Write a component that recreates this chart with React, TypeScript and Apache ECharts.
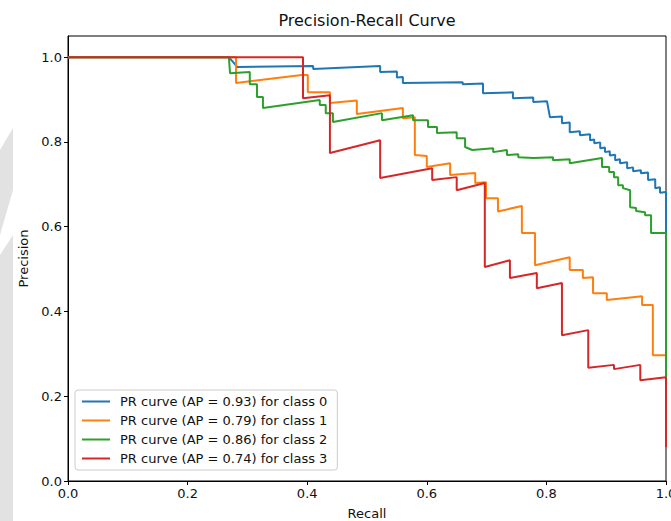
import React, { useEffect, useRef } from 'react';
import * as echarts from 'echarts';

const seriesNames = [
  'PR curve (AP = 0.93) for class 0',
  'PR curve (AP = 0.79) for class 1',
  'PR curve (AP = 0.86) for class 2',
  'PR curve (AP = 0.74) for class 3',
];
const seriesColors = ['#1f77b4', '#ff7f0e', '#2ca02c', '#d62728'];
const axisTicks = [0, 0.2, 0.4, 0.6, 0.8, 1.0];

// [recall, precision]
const class0 = [
  [0, 1], [0.269, 1], [0.283, 0.977], [0.41, 0.979], [0.41, 0.972], [0.522, 0.979], [0.522, 0.965],
  [0.55, 0.966], [0.55, 0.952], [0.56, 0.953], [0.56, 0.939], [0.66, 0.941], [0.66, 0.936],
  [0.694, 0.938], [0.694, 0.915], [0.744, 0.917], [0.744, 0.903], [0.778, 0.905], [0.778, 0.894],
  [0.801, 0.896], [0.806, 0.858], [0.826, 0.86], [0.826, 0.844], [0.839, 0.846], [0.839, 0.823],
  [0.856, 0.825], [0.856, 0.816], [0.873, 0.818], [0.873, 0.804], [0.88, 0.806], [0.88, 0.797],
  [0.89, 0.799], [0.89, 0.785], [0.898, 0.787], [0.898, 0.776], [0.906, 0.778], [0.906, 0.768],
  [0.915, 0.77], [0.915, 0.757], [0.923, 0.759], [0.923, 0.75], [0.935, 0.752], [0.935, 0.738],
  [0.945, 0.74], [0.945, 0.731], [0.958, 0.733], [0.958, 0.726], [0.97, 0.728], [0.97, 0.71],
  [0.982, 0.712], [0.982, 0.691], [0.99, 0.693], [0.99, 0.68], [1.0, 0.682], [1.0, 0.55],
];
const class1 = [
  [0, 1], [0.281, 1], [0.281, 0.939], [0.391, 0.958], [0.401, 0.958], [0.401, 0.917], [0.438, 0.917],
  [0.438, 0.892], [0.483, 0.898], [0.483, 0.866], [0.56, 0.88], [0.56, 0.856], [0.58, 0.858],
  [0.58, 0.769], [0.6, 0.767], [0.6, 0.741], [0.639, 0.75], [0.639, 0.722], [0.681, 0.727],
  [0.681, 0.703], [0.699, 0.705], [0.699, 0.667], [0.719, 0.667], [0.719, 0.636], [0.759, 0.649],
  [0.759, 0.585], [0.781, 0.585], [0.781, 0.509], [0.839, 0.528], [0.839, 0.498], [0.861, 0.498],
  [0.861, 0.479], [0.878, 0.481], [0.878, 0.443], [0.901, 0.443], [0.901, 0.427], [0.96, 0.436],
  [0.96, 0.415], [0.978, 0.415], [0.978, 0.297], [1.0, 0.297], [1.0, 0.22],
];
const class2 = [
  [0, 1], [0.269, 1], [0.271, 0.962], [0.304, 0.965], [0.304, 0.936], [0.316, 0.936], [0.316, 0.906],
  [0.326, 0.906], [0.326, 0.88], [0.421, 0.899], [0.421, 0.887], [0.431, 0.887], [0.431, 0.868],
  [0.443, 0.868], [0.443, 0.847], [0.525, 0.868], [0.525, 0.851], [0.577, 0.863], [0.577, 0.851],
  [0.602, 0.851], [0.602, 0.835], [0.617, 0.835], [0.617, 0.821], [0.65, 0.823], [0.65, 0.809],
  [0.664, 0.809], [0.664, 0.788], [0.676, 0.781], [0.711, 0.785], [0.711, 0.776], [0.734, 0.781],
  [0.734, 0.769], [0.753, 0.771], [0.753, 0.764], [0.779, 0.762], [0.811, 0.764], [0.811, 0.757],
  [0.839, 0.759], [0.839, 0.75], [0.893, 0.762], [0.893, 0.741], [0.905, 0.741], [0.905, 0.729],
  [0.913, 0.729], [0.913, 0.717], [0.92, 0.717], [0.92, 0.698], [0.928, 0.698], [0.928, 0.691],
  [0.94, 0.686], [0.94, 0.646], [0.95, 0.644], [0.95, 0.637], [0.965, 0.634], [0.965, 0.627],
  [0.975, 0.627], [0.975, 0.585], [1.0, 0.585], [1.0, 0.2],
];
const class3 = [
  [0, 1], [0.393, 1], [0.393, 0.903], [0.438, 0.91], [0.438, 0.774], [0.522, 0.804], [0.522, 0.715],
  [0.609, 0.738], [0.609, 0.71], [0.65, 0.717], [0.65, 0.686], [0.697, 0.703], [0.697, 0.505],
  [0.739, 0.521], [0.739, 0.479], [0.784, 0.491], [0.784, 0.455], [0.826, 0.467], [0.826, 0.344],
  [0.87, 0.356], [0.87, 0.267], [0.913, 0.274], [0.913, 0.264], [0.957, 0.274], [0.957, 0.238],
  [1.0, 0.245], [1.0, 0.08],
];
const seriesData = [class0, class1, class2, class3];

const FONT = 'DejaVu Sans';

export default function App() {
  const ref = useRef<HTMLDivElement>(null);
  useEffect(() => {
    document.body.style.margin = '0';
    const chart = echarts.init(ref.current!, null, { renderer: 'svg' });
    const axisCommon = {
      type: 'value',
      interval: 0.2,
      axisLine: { show: true, lineStyle: { color: '#000', width: 1 } },
      axisTick: { show: true, length: 4, customValues: axisTicks, lineStyle: { color: '#000' } },
      axisLabel: {
        customValues: axisTicks,
        formatter: (v: number) => v.toFixed(1),
        fontSize: 13,
        fontFamily: FONT,
        color: '#111',
      },
      splitLine: { show: false },
      nameLocation: 'middle',
      nameTextStyle: { fontSize: 13, fontFamily: FONT, color: '#111' },
    };
    chart.setOption({
      animation: false,
      backgroundColor: '#fff',
      grid: {
        left: 68, right: 5, top: 36, bottom: 40,
        show: true, borderColor: '#000', borderWidth: 1,
        containLabel: false, outerBoundsMode: 'none',
      },
      xAxis: { ...axisCommon, min: 0, max: 1, name: 'Recall', nameGap: 26, axisLabel: { ...axisCommon.axisLabel, margin: 6 } },
      yAxis: { ...axisCommon, min: 0, max: 1.05, name: 'Precision', nameGap: 30, axisLabel: { ...axisCommon.axisLabel, margin: 6 } },
      legend: {
        orient: 'vertical',
        left: 75,
        top: 390,
        data: seriesNames,
        icon: 'rect',
        itemWidth: 28,
        itemHeight: 2,
        itemGap: 6,
        padding: [5, 10, 5, 7],
        borderColor: '#cccccc',
        borderWidth: 1,
        borderRadius: 3,
        backgroundColor: 'rgba(255,255,255,0.8)',
        textStyle: { fontSize: 13, fontFamily: FONT, color: '#111', padding: [0, 0, 0, 5] },
      },
      graphic: [
        {
          type: 'text',
          x: 367,
          y: 20,
          style: { text: 'Precision-Recall Curve', fontSize: 16, fontFamily: FONT, fill: '#111', align: 'center', verticalAlign: 'middle' },
        },
        { type: 'polygon', shape: { points: [[0, 150], [13, 128], [13, 190], [0, 235]] }, style: { fill: '#e2e2e2' } },
        { type: 'polygon', shape: { points: [[0, 255], [13, 235], [13, 521], [0, 521]] }, style: { fill: '#e2e2e2' } },
      ],
      series: seriesData.map((d, i) => ({
        name: seriesNames[i],
        type: 'line',
        data: d,
        showSymbol: false,
        symbol: 'none',
        clip: false,
        color: seriesColors[i],
        lineStyle: { width: 2, color: seriesColors[i] },
        z: 2 + i,
      })),
    });
    return () => chart.dispose();
  }, []);
  return <div ref={ref} style={{ width: 671, height: 521 }} />;
}
